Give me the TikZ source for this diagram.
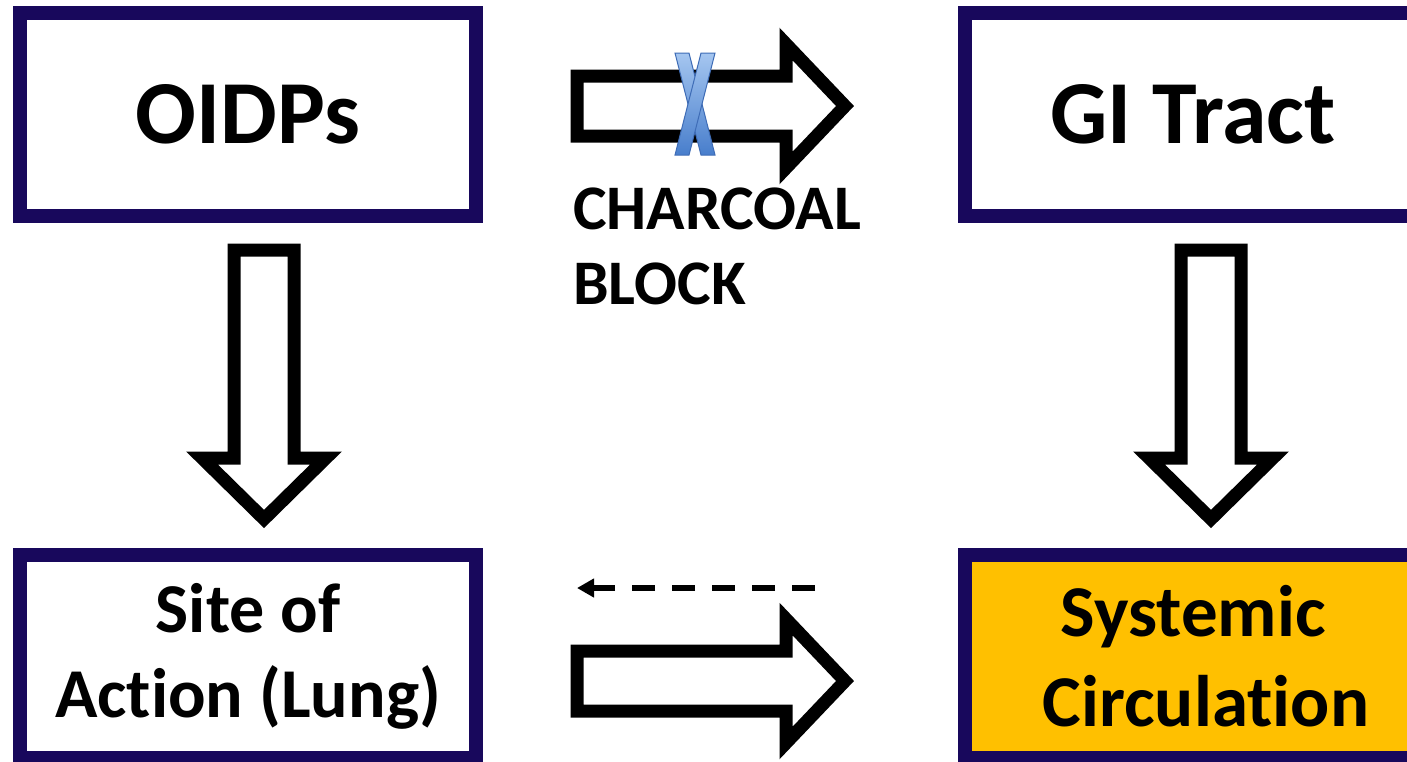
\documentclass[tikz,border=0pt]{standalone}
\usepackage{fontspec}
\setmainfont{Carlito}[Ligatures=NoCommon]
\usetikzlibrary{arrows.meta}
\definecolor{boxborder}{RGB}{24,8,92}
\definecolor{sysfill}{RGB}{255,192,0}
\definecolor{xtop}{RGB}{165,198,240}
\definecolor{xbot}{RGB}{72,126,204}
\definecolor{xedge}{RGB}{62,108,182}
\tikzset{
  flowbox/.style={draw=boxborder, line width=14pt, minimum width=456pt, minimum height=203pt, inner sep=0pt, align=center, fill=white},
  blockarrow/.style={draw=black, fill=white, line width=13pt, line join=miter, miter limit=10},
  xbar/.style={top color=xtop, bottom color=xbot, draw=xedge, line width=1pt},
  dasharrow/.style={line width=6pt, dash pattern=on 23pt off 17pt, -{Triangle[length=17pt,width=18pt]}},
  bigtext/.style={font=\bfseries\fontsize{90}{110}\selectfont},
}
\begin{document}
\begin{tikzpicture}[x=1pt,y=-1pt]
\useasboundingbox (0,0) rectangle (1407,761);
\clip (0,0) rectangle (1407,761);
\fill[white] (0,0) rectangle (1407,761);

% boxes
\node[flowbox, bigtext] (oidps) at (248,114.5) {OIDPs};
\node[flowbox, bigtext] (gi) at (1193,114.5) {GI Tract};
\node[flowbox, font=\bfseries\fontsize{70}{85}\selectfont] (site) at (248,656.5) {Site of\\Action (Lung)};
\node[flowbox, fill=sysfill, font=\bfseries\fontsize{73}{90}\selectfont] (sys) at (1193,656.5) {Systemic\\\hspace*{26pt}Circulation};

% block arrows
\draw[blockarrow] (577,76) -- (786,76) -- (786,44) -- (845,106) -- (786,168) -- (786,136) -- (577,136) -- cycle;
\draw[blockarrow] (577,651) -- (786,651) -- (786,619) -- (845,681) -- (786,743) -- (786,711) -- (577,711) -- cycle;
\draw[blockarrow] (234,250) -- (294,250) -- (294,458) -- (326,458) -- (264,519) -- (202,458) -- (234,458) -- cycle;
\draw[blockarrow] (1181,250) -- (1241,250) -- (1241,458) -- (1273,458) -- (1211,519) -- (1149,458) -- (1181,458) -- cycle;

% X block mark
\shadedraw[xbar] (675,53) -- (689,53) -- (715,155) -- (701,155) -- cycle;
\shadedraw[xbar] (701,53) -- (715,53) -- (689,155) -- (675,155) -- cycle;

% label
\node[anchor=north west, inner sep=0pt, align=left, font=\bfseries\fontsize{63.5}{75}\selectfont] (block) at (573,188) {CHARCOAL\\BLOCK};

% dashed return arrow
\coordinate (dstart) at (815,588);
\coordinate (dend) at (577,588);
\draw[dasharrow] (dstart) -- (dend);
\end{tikzpicture}
\end{document}
